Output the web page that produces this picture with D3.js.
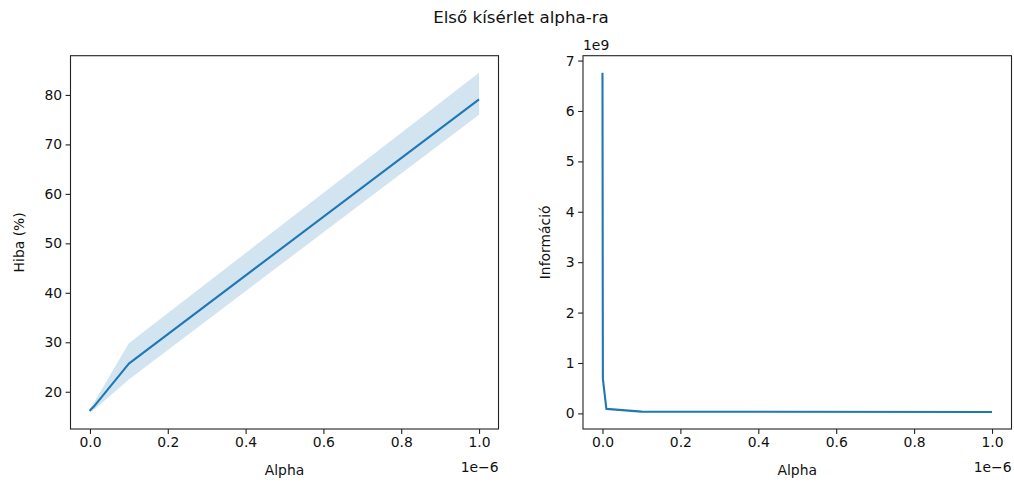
<!DOCTYPE html>
<html>
<head>
<meta charset="utf-8">
<script src="https://cdn.jsdelivr.net/npm/d3@7"></script>
<style>
  body { margin: 0; background: #fff; }
  svg text { font-family: "DejaVu Sans", sans-serif; fill: #111; }
</style>
</head>
<body>
<svg id="chart" width="1014" height="484"></svg>
<script>
// Alpha values tried in the experiment
var alphas = [0, 1e-9, 1e-8, 1e-7, 1e-6];
// Error (%) mean and confidence band
var errMean = [16.1, 16.3, 17.0, 25.7, 79.1];
var errLow = [15.9, 15.9, 16.3, 22.5, 76.0];
var errHigh = [16.3, 16.8, 17.8, 29.8, 84.5];
// Information
var info = [6.76e9, 0.69e9, 0.09e9, 0.035e9, 0.027e9];

var xTicks = [0, 0.2e-6, 0.4e-6, 0.6e-6, 0.8e-6, 1e-6];
var errTicks = [20, 30, 40, 50, 60, 70, 80];
var infoTicks = [0, 1e9, 2e9, 3e9, 4e9, 5e9, 6e9, 7e9];

var blue = '#1f77b4';
var fs = '13.9px';
var svg = d3.select('#chart');

svg.append('text')
  .attr('x', 521).attr('y', 23)
  .attr('text-anchor', 'middle')
  .style('font-size', '16.7px')
  .text('Első kísérlet alpha-ra');

function padded(lo, hi) {
  var m = (hi - lo) * 0.05;
  return [lo - m, hi + m];
}

function panel(opts) {
  var left = opts.left, right = opts.right, top = 55.7, bottom = 429;
  var x = d3.scaleLinear().domain(padded(d3.min(alphas), d3.max(alphas))).range([left, right]);
  var y = d3.scaleLinear().domain(padded(opts.ymin, opts.ymax)).range([bottom, top]);
  var g = svg.append('g');

  if (opts.low) {
    var area = d3.area()
      .x(function (d, i) { return x(alphas[i]); })
      .y0(function (d, i) { return y(opts.low[i]); })
      .y1(function (d, i) { return y(opts.high[i]); });
    g.append('path').datum(alphas).attr('d', area)
      .attr('fill', blue).attr('fill-opacity', 0.2);
  }
  var line = d3.line()
    .x(function (d, i) { return x(alphas[i]); })
    .y(function (d) { return y(d); });
  g.append('path').datum(opts.values).attr('d', line)
    .attr('fill', 'none').attr('stroke', blue).attr('stroke-width', 2.1)
    .attr('stroke-linejoin', 'round');

  var xAxis = d3.axisBottom(x).tickValues(xTicks).tickSize(4.9).tickPadding(3.5)
    .tickFormat(function (d) { return (d * 1e6).toFixed(1); });
  var gx = g.append('g').attr('transform', 'translate(0,' + bottom + ')').call(xAxis);
  var yAxis = d3.axisLeft(y).tickValues(opts.yTicks).tickSize(4.9).tickPadding(3.5)
    .tickFormat(opts.yFormat);
  var gy = g.append('g').attr('transform', 'translate(' + left + ',0)').call(yAxis);
  [gx, gy].forEach(function (a) {
    a.select('.domain').remove();
    a.selectAll('line').attr('stroke', '#222').attr('stroke-width', 1.1);
    a.selectAll('text').style('font-size', fs).attr('fill', '#111');
  });

  g.append('rect')
    .attr('x', left).attr('y', top)
    .attr('width', right - left).attr('height', bottom - top)
    .attr('fill', 'none').attr('stroke', '#222').attr('stroke-width', 1.1);

  g.append('text')
    .attr('x', (left + right) / 2).attr('y', 475)
    .attr('text-anchor', 'middle').style('font-size', fs)
    .text('Alpha');
  g.append('text')
    .attr('x', right).attr('y', 472)
    .attr('text-anchor', 'end').style('font-size', fs)
    .text('1e\u22126');
  g.append('text')
    .attr('transform', 'translate(' + opts.ylabelX + ',' + ((top + bottom) / 2) + ') rotate(-90)')
    .attr('text-anchor', 'middle').style('font-size', fs)
    .text(opts.ylabel);
  if (opts.offset) {
    g.append('text')
      .attr('x', left).attr('y', 50)
      .style('font-size', fs)
      .text(opts.offset);
  }
}

panel({
  left: 70.5, right: 498.5,
  values: errMean, low: errLow, high: errHigh,
  ymin: d3.min(errLow), ymax: d3.max(errHigh),
  yTicks: errTicks, yFormat: d3.format('d'),
  ylabel: 'Hiba (%)', ylabelX: 24
});

panel({
  left: 583, right: 1011.5,
  values: info,
  ymin: d3.min(info), ymax: d3.max(info),
  yTicks: infoTicks, yFormat: function (d) { return String(Math.round(d / 1e9)); },
  ylabel: 'Információ', ylabelX: 550, offset: '1e9'
});
</script>
</body>
</html>
